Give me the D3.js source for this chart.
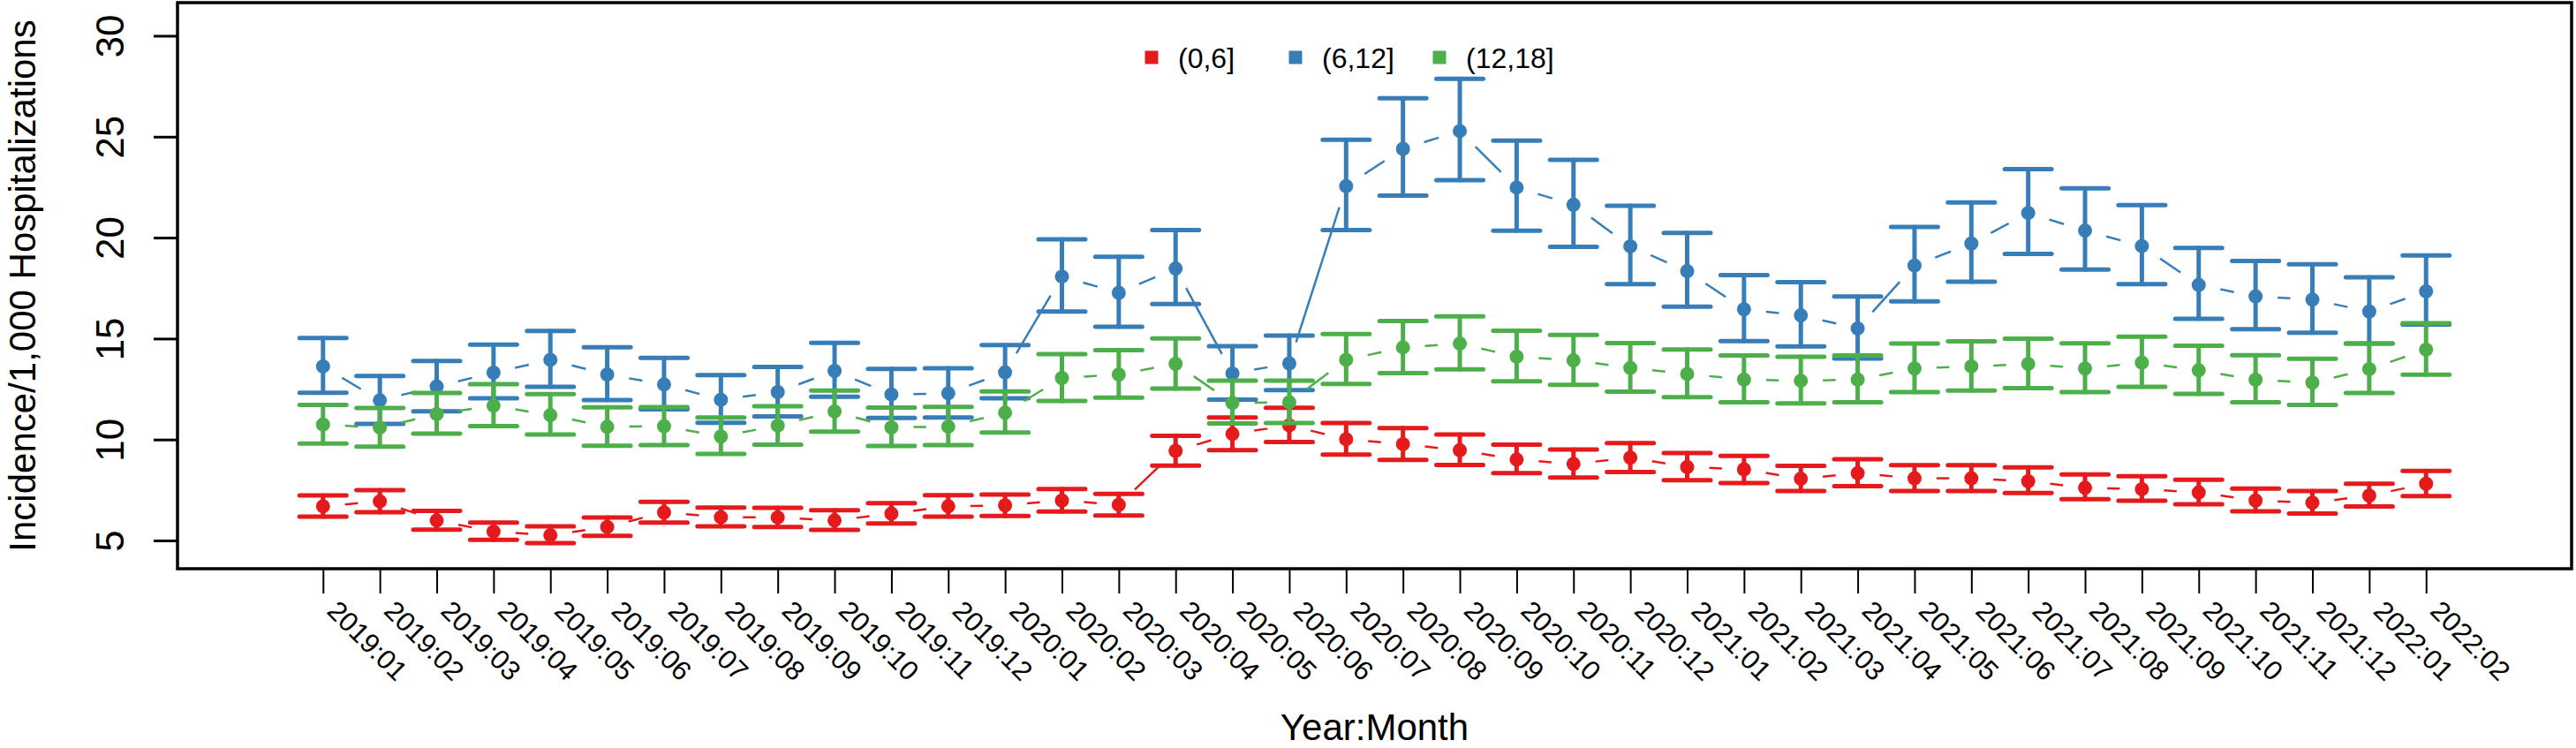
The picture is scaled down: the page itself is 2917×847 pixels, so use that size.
<!DOCTYPE html>
<html>
<head>
<meta charset="utf-8">
<script src="https://cdn.jsdelivr.net/npm/d3@7"></script>
<style>
  body { margin: 0; background: #fff; }
  text { font-family: "Liberation Sans", Arial, Helvetica, sans-serif; }
</style>
</head>
<body>
<div id="chart"></div>
<script>
// month labels
var months = ["2019:01","2019:02","2019:03","2019:04","2019:05","2019:06","2019:07","2019:08","2019:09","2019:10","2019:11","2019:12",
              "2020:01","2020:02","2020:03","2020:04","2020:05","2020:06","2020:07","2020:08","2020:09","2020:10","2020:11","2020:12",
              "2021:01","2021:02","2021:03","2021:04","2021:05","2021:06","2021:07","2021:08","2021:09","2021:10","2021:11","2021:12",
              "2022:01","2022:02"];

var groups = ["(0,6]", "(6,12]", "(12,18]"];
var colors = ["#E41A1C", "#377EB8", "#4DAF4A"];

// (0,6]
var est06 = [6.69,6.94,5.99,5.44,5.26,5.67,6.39,6.15,6.14,5.99,6.33,6.69,6.74,6.98,6.77,9.44,10.28,10.70,10.01,9.77,9.47,9.01,8.79,9.10,8.64,8.52,8.06,8.33,8.08,8.08,7.93,7.61,7.54,7.38,6.98,6.87,7.22,7.81];
var lo06  = [6.18,6.40,5.54,5.03,4.87,5.23,5.89,5.70,5.67,5.52,5.84,6.18,6.21,6.43,6.24,8.71,9.47,9.88,9.25,8.99,8.74,8.33,8.12,8.39,7.98,7.84,7.45,7.69,7.45,7.45,7.35,7.04,6.97,6.79,6.44,6.33,6.68,7.20];
var hi06  = [7.23,7.49,6.47,5.89,5.70,6.14,6.91,6.63,6.62,6.50,6.85,7.24,7.27,7.55,7.31,10.18,11.09,11.57,10.82,10.57,10.25,9.75,9.50,9.82,9.33,9.19,8.70,9.02,8.73,8.73,8.62,8.27,8.18,8.01,7.57,7.45,7.81,8.44];

// (6,12]
var est612 = [13.62,11.94,12.63,13.31,13.95,13.22,12.73,11.97,12.35,13.40,12.23,12.29,13.33,18.07,17.27,18.47,13.27,13.77,22.55,24.40,25.28,22.48,21.63,19.57,18.34,16.45,16.15,15.50,18.62,19.71,21.22,20.35,19.58,17.66,17.09,16.93,16.34,17.34];
var lo612  = [12.32,10.77,11.40,12.04,12.61,11.96,11.50,10.83,11.15,12.12,11.07,11.09,12.04,16.34,15.59,16.71,11.98,12.45,20.38,22.08,22.85,20.34,19.54,17.70,16.58,14.87,14.61,14.01,16.84,17.82,19.19,18.42,17.70,15.98,15.47,15.29,14.76,15.69];
var hi612  = [15.03,13.15,13.89,14.70,15.38,14.57,14.04,13.19,13.60,14.79,13.50,13.53,14.68,19.92,19.05,20.38,14.62,15.15,24.85,26.90,27.87,24.80,23.85,21.58,20.23,18.14,17.79,17.08,20.53,21.74,23.39,22.44,21.61,19.49,18.85,18.68,18.04,19.12];

// (12,18]
var est1218 = [10.74,10.59,11.26,11.68,11.21,10.63,10.66,10.15,10.69,11.39,10.60,10.64,11.33,13.05,13.22,13.75,11.81,11.85,13.95,14.56,14.75,14.10,13.92,13.55,13.25,12.97,12.91,12.97,13.52,13.62,13.74,13.52,13.81,13.43,12.96,12.82,13.49,14.45];
var lo1218  = [9.80,9.65,10.29,10.67,10.25,9.69,9.72,9.29,9.75,10.39,9.68,9.72,10.35,11.91,12.08,12.52,10.80,10.82,12.75,13.29,13.48,12.89,12.71,12.37,12.10,11.85,11.79,11.85,12.35,12.42,12.55,12.35,12.61,12.26,11.85,11.71,12.31,13.21];
var hi1218  = [11.72,11.56,12.31,12.74,12.25,11.59,11.61,11.09,11.65,12.42,11.58,11.62,12.38,14.23,14.43,15.01,12.92,12.92,15.23,15.87,16.10,15.39,15.18,14.78,14.46,14.16,14.10,14.16,14.75,14.86,15.00,14.77,15.09,14.65,14.17,14.00,14.76,15.76];

var yTicks = [5, 10, 15, 20, 25, 30];

var series = [
  {name: groups[0], color: colors[0], est: est06,   lo: lo06,   hi: hi06},
  {name: groups[1], color: colors[1], est: est612,  lo: lo612,  hi: hi612},
  {name: groups[2], color: colors[2], est: est1218, lo: lo1218, hi: hi1218}
];

var W = 2917, H = 847;
var box = {left: 201, top: 3, right: 2912, bottom: 644};

var x = d3.scaleLinear().domain([-1.56, 40.56]).range([box.left, box.right]);
var y = d3.scaleLinear().domain([3.6, 31.64]).range([box.bottom, box.top]);

var svg = d3.select("#chart").append("svg")
  .attr("width", W)
  .attr("height", H)
  .style("display", "block");

svg.append("rect").attr("width", W).attr("height", H).attr("fill", "#fff");

//////////////////// series ////////////////////
var gap = 25, capHalf = 26.5;

series.forEach(function(s) {
  var g = svg.append("g");
  var pts = s.est.map(function(v, i) { return [x(i + 1), y(v)]; });

  // type="b" style lines with gaps around the points
  for (var i = 0; i < pts.length - 1; i++) {
    var p = pts[i], q = pts[i + 1];
    var dx = q[0] - p[0], dy = q[1] - p[1], len = Math.sqrt(dx * dx + dy * dy);
    if (len <= 2 * gap) continue;
    var ux = dx / len, uy = dy / len;
    g.append("line")
      .attr("x1", p[0] + ux * gap).attr("y1", p[1] + uy * gap)
      .attr("x2", q[0] - ux * gap).attr("y2", q[1] - uy * gap)
      .attr("stroke", s.color).attr("stroke-width", 2.5);
  }

  g.selectAll("circle").data(s.est).enter().append("circle")
    .attr("cx", function(d, i) { return x(i + 1); })
    .attr("cy", function(d) { return y(d); })
    .attr("r", 8)
    .attr("fill", s.color);

  // error bars
  var eb = g.selectAll("g.eb").data(s.est).enter().append("g")
    .attr("stroke", s.color).attr("stroke-width", 5).attr("stroke-linecap", "round");
  eb.append("line")
    .attr("x1", function(d, i) { return x(i + 1); })
    .attr("x2", function(d, i) { return x(i + 1); })
    .attr("y1", function(d, i) { return y(s.lo[i]); })
    .attr("y2", function(d, i) { return y(s.hi[i]); });
  eb.append("line")
    .attr("x1", function(d, i) { return x(i + 1) - capHalf; })
    .attr("x2", function(d, i) { return x(i + 1) + capHalf; })
    .attr("y1", function(d, i) { return y(s.lo[i]); })
    .attr("y2", function(d, i) { return y(s.lo[i]); });
  eb.append("line")
    .attr("x1", function(d, i) { return x(i + 1) - capHalf; })
    .attr("x2", function(d, i) { return x(i + 1) + capHalf; })
    .attr("y1", function(d, i) { return y(s.hi[i]); })
    .attr("y2", function(d, i) { return y(s.hi[i]); });
});

//////////////////// axes ////////////////////
var xAxis = svg.append("g")
  .attr("transform", "translate(0," + box.bottom + ")")
  .call(d3.axisBottom(x)
    .tickValues(d3.range(1, months.length + 1))
    .tickFormat(function(d) { return months[d - 1]; })
    .tickSize(28));
xAxis.select(".domain").remove();
xAxis.selectAll(".tick line").attr("stroke", "#000").attr("stroke-width", 2);
xAxis.selectAll(".tick text")
  .attr("y", null).attr("dy", null)
  .attr("fill", "#000")
  .attr("font-size", 31)
  .attr("font-family", "'Liberation Sans', Arial, Helvetica, sans-serif")
  .attr("text-anchor", "start")
  .attr("dominant-baseline", "central")
  .attr("transform", "translate(10,42) rotate(45)");

var yAxis = svg.append("g")
  .attr("transform", "translate(" + box.left + ",0)")
  .call(d3.axisLeft(y).tickValues(yTicks).tickSize(27));
yAxis.select(".domain").remove();
yAxis.selectAll(".tick line").attr("stroke", "#000").attr("stroke-width", 3);
yAxis.selectAll(".tick text")
  .attr("x", null).attr("dy", null)
  .attr("fill", "#000")
  .attr("font-size", 44)
  .attr("font-family", "'Liberation Sans', Arial, Helvetica, sans-serif")
  .attr("text-anchor", "middle")
  .attr("transform", "translate(-61,0) rotate(-90)");

// box
svg.append("rect")
  .attr("x", box.left).attr("y", box.top)
  .attr("width", box.right - box.left).attr("height", box.bottom - box.top)
  .attr("fill", "none").attr("stroke", "#000").attr("stroke-width", 3.5);

// axis titles
svg.append("text")
  .attr("x", (box.left + box.right) / 2).attr("y", 838)
  .attr("text-anchor", "middle").attr("font-size", 42)
  .text("Year:Month");

svg.append("text")
  .attr("transform", "translate(40," + ((box.top + box.bottom) / 2) + ") rotate(-90)")
  .attr("text-anchor", "middle").attr("font-size", 42)
  .text("Incidence/1,000 Hospitalizations");

//////////////////// legend ////////////////////
var legendX = [1304, 1467, 1630];
var legend = svg.selectAll("g.legend").data(series).enter().append("g")
  .attr("transform", function(d, i) { return "translate(" + legendX[i] + ",66)"; });
legend.append("rect")
  .attr("x", -7.5).attr("y", -8.5).attr("width", 15).attr("height", 15)
  .attr("fill", function(d) { return d.color; });
legend.append("text")
  .attr("x", 30).attr("y", 0)
  .attr("dominant-baseline", "central")
  .attr("font-size", 32)
  .text(function(d) { return d.name; });
</script>
</body>
</html>
